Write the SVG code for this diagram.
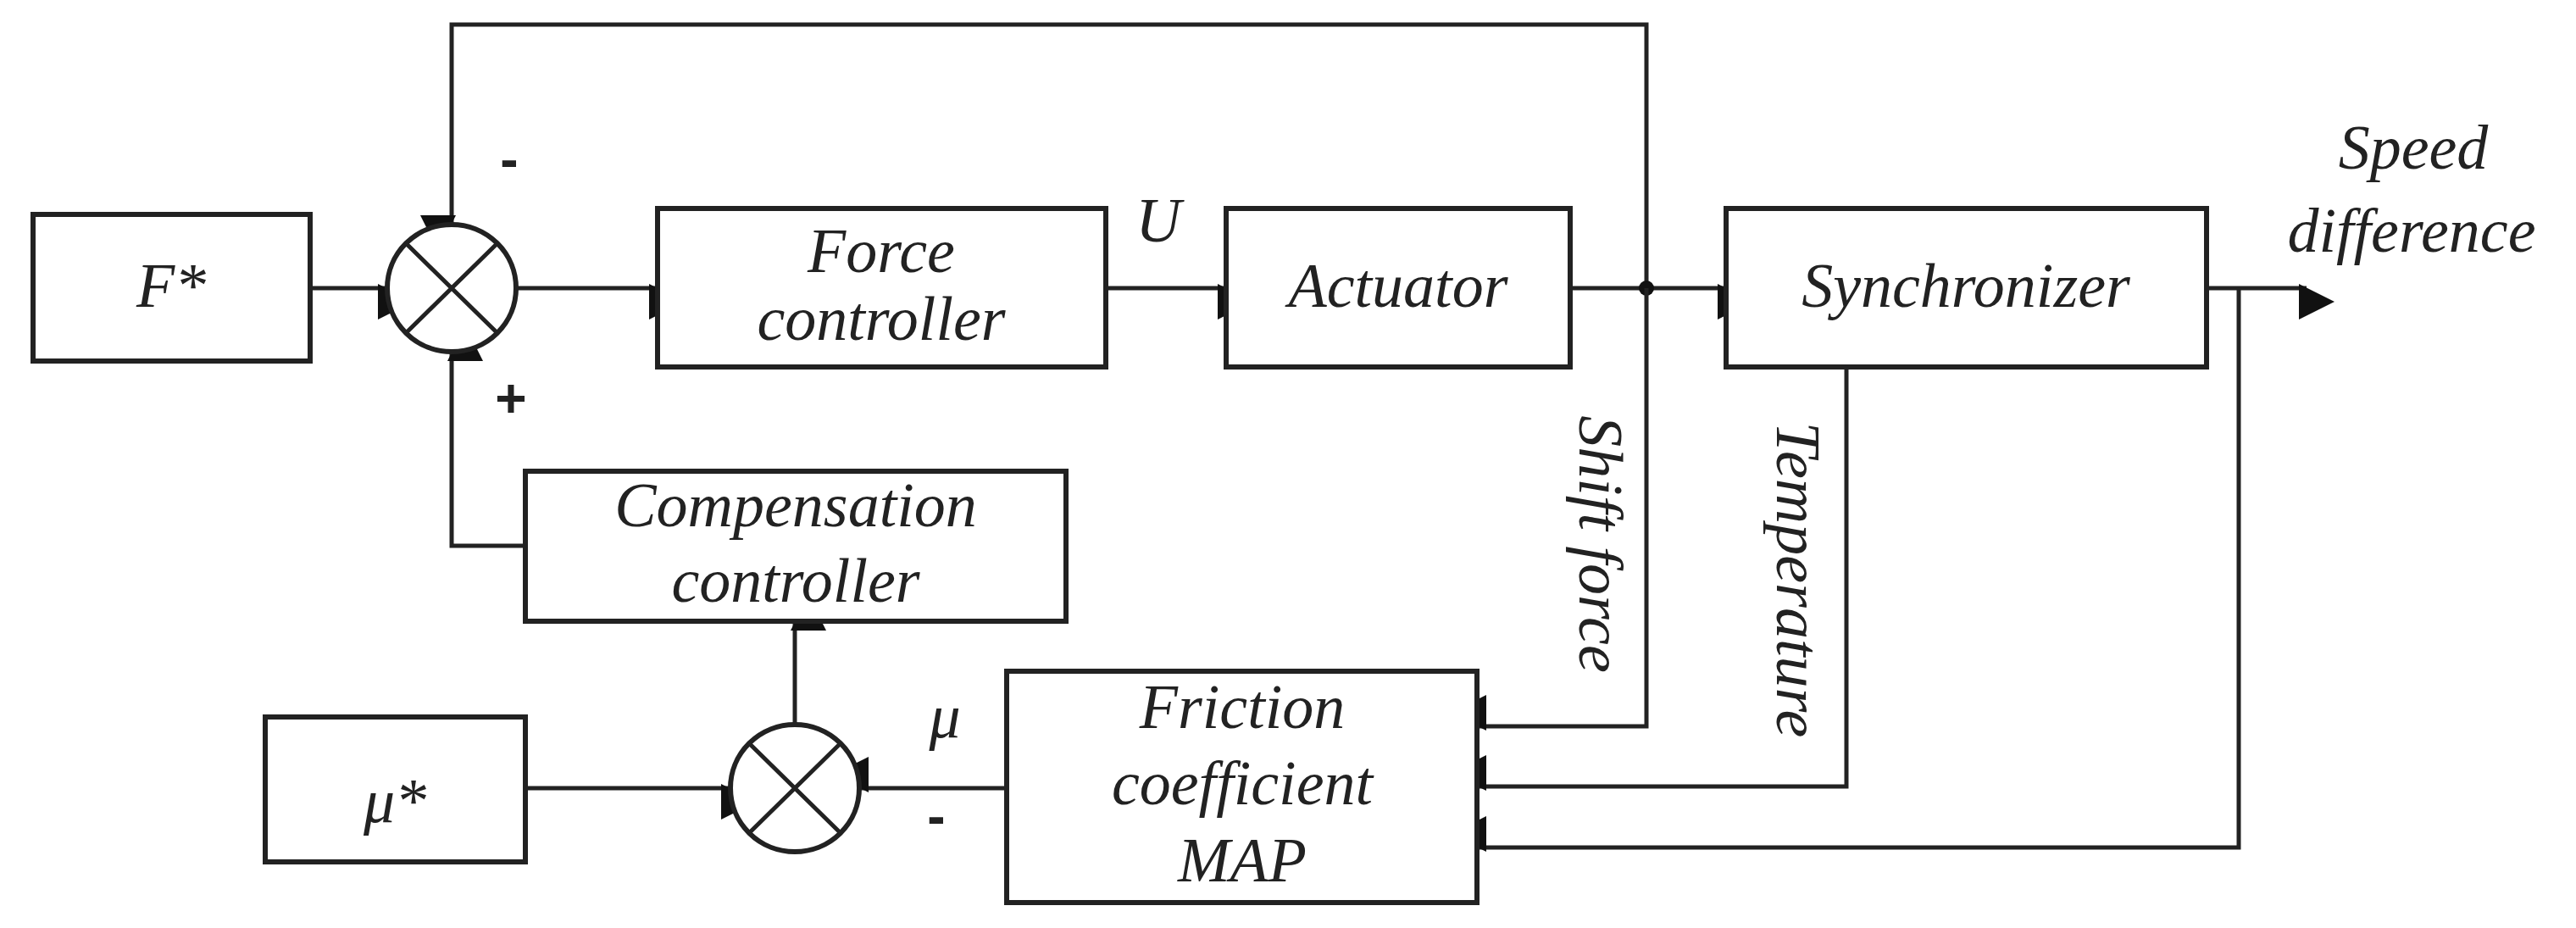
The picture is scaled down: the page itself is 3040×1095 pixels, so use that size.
<svg xmlns="http://www.w3.org/2000/svg" width="3040" height="1095" viewBox="0 0 3040 1095">
<style>
.b{fill:#fff;stroke:#222;stroke-width:6}
.l{fill:none;stroke:#222;stroke-width:5}
text{font-family:"Liberation Serif",serif;font-style:italic;font-size:74px;fill:#222;text-anchor:middle}
.s{font-style:normal;font-weight:bold;font-family:"Liberation Sans",sans-serif;font-size:64px}
</style>
<defs><marker id="a" markerWidth="10" markerHeight="10" refX="9" refY="5" orient="auto" markerUnits="userSpaceOnUse" viewBox="0 0 10 10" style="overflow:visible"><path d="M0,0 L10,5 L0,10 Z" fill="#111" transform="scale(4.2)"/></marker></defs>
<rect width="3040" height="1095" fill="#fff"/>
<g id="connectors">
<path class="l" d="M366,340 H455" marker-end="url(#a)"/>
<path class="l" d="M1943,340 V29 H533 V263" marker-end="url(#a)"/>
<path class="l" d="M609,340 H775" marker-end="url(#a)"/>
<path class="l" d="M1305,340 H1446" marker-end="url(#a)"/>
<path class="l" d="M1853,340 H2036" marker-end="url(#a)"/>
<circle cx="1943" cy="340" r="9" fill="#111"/>
<path class="l" d="M2604,340 H2722" marker-end="url(#a)"/>
<path class="l" d="M2642,340 V1000 H1745" marker-end="url(#a)"/>
<path class="l" d="M2179,433 V928 H1745" marker-end="url(#a)"/>
<path class="l" d="M1943,340 V857 H1745" marker-end="url(#a)"/>
<path class="l" d="M620,644 H533 V417" marker-end="url(#a)"/>
<path class="l" d="M620,930 H860" marker-end="url(#a)"/>
<path class="l" d="M1188,930 H1016" marker-end="url(#a)"/>
<path class="l" d="M938,855 V735" marker-end="url(#a)"/>
</g>
<g id="Fstar"><rect class="b" x="39" y="253" width="327" height="173"/><text x="202" y="362">F*</text></g>
<g id="sum1"><ellipse class="b" cx="533" cy="340" rx="76" ry="75"/><path class="l" d="M479,287 L587,393 M587,287 L479,393"/></g>
<g id="force"><rect class="b" x="776" y="246" width="529" height="187"/><text x="1040" y="321">Force</text><text x="1040" y="401">controller</text></g>
<g id="actuator"><rect class="b" x="1447" y="246" width="406" height="187"/><text x="1650" y="362">Actuator</text></g>
<g id="sync"><rect class="b" x="2037" y="246" width="567" height="187"/><text x="2320" y="362">Synchronizer</text></g>
<g id="comp"><rect class="b" x="620" y="556" width="638" height="177"/><text x="939" y="621">Compensation</text><text x="939" y="710">controller</text></g>
<g id="mustar"><rect class="b" x="313" y="846" width="307" height="171"/><text x="466" y="970">μ*</text></g>
<g id="sum2"><ellipse class="b" cx="938" cy="930" rx="76" ry="75"/><path class="l" d="M884,877 L992,983 M992,877 L884,983"/></g>
<g id="map"><rect class="b" x="1188" y="792" width="555" height="273"/><text x="1466" y="859">Friction</text><text x="1466" y="949">coefficient</text><text x="1466" y="1040">MAP</text></g>
<g id="labels">
<text x="1367" y="285">U</text>
<text class="s" x="601" y="210">-</text>
<text class="s" x="603" y="492">+</text>
<text x="1115" y="870">μ</text>
<text class="s" x="1105" y="985">-</text>
<text x="2848" y="199">Speed</text>
<text x="2846" y="297">difference</text>
<text transform="translate(1864,642) rotate(90)">Shift force</text>
<text transform="translate(2097,684) rotate(90)">Temperature</text>
</g>
</svg>
